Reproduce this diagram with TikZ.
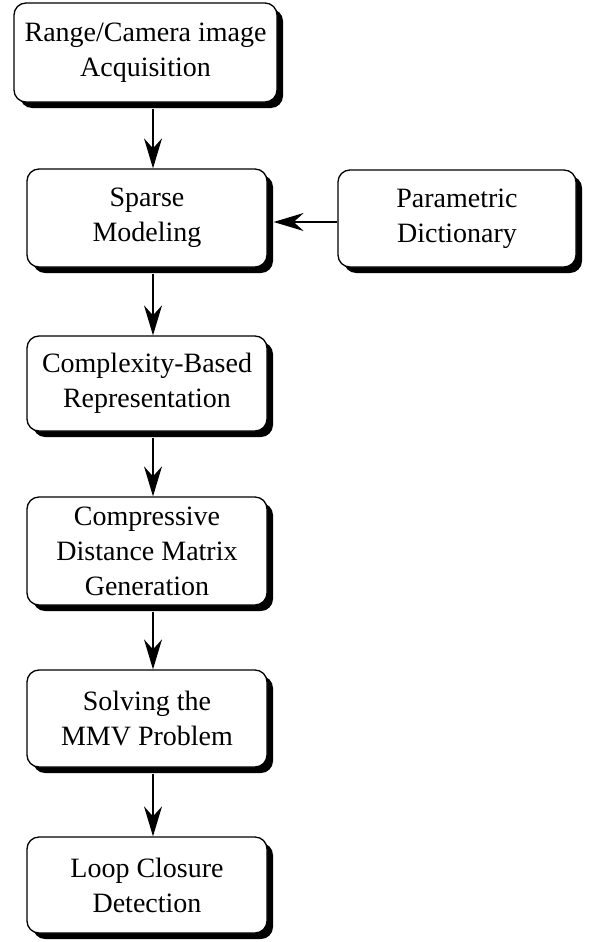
\documentclass[tikz,border=0pt]{standalone}
\usepackage{fontspec}
\setmainfont{Liberation Serif}
\usetikzlibrary{shadows,arrows.meta}
\begin{document}
\begin{tikzpicture}[x=1pt,y=-1pt,
  stepbox/.style={draw=black, line width=1.3pt, fill=white, rounded corners=12pt,
    align=center, inner sep=0pt, font=\fontsize{28}{35}\selectfont,
    drop shadow={shadow xshift=6pt, shadow yshift=-6pt, fill=black, opacity=1}},
  arr/.style={line width=1.3pt, -{Stealth[length=30pt,width=18pt,inset=10pt]}}]
\useasboundingbox (0,0) rectangle (592,942);
\node[stepbox, minimum width=263pt, minimum height=99pt] (b1) at (145.5,52.5) {Range/Camera image\\Acquisition};
\node[stepbox, minimum width=240pt, minimum height=98pt] (b2) at (147,218) {Sparse\\Modeling};
\node[stepbox, minimum width=238pt, minimum height=97pt] (p) at (457,218.5) {Parametric\\Dictionary};
\node[stepbox, minimum width=240pt, minimum height=95pt] (b3) at (147,383.5) {Complexity-Based\\Representation};
\node[stepbox, minimum width=240pt, minimum height=108pt] (b4) at (147,551) {Compressive\\Distance Matrix\\Generation};
\node[stepbox, minimum width=240pt, minimum height=97pt] (b5) at (147,718.5) {Solving the\\MMV Problem};
\node[stepbox, minimum width=240pt, minimum height=96pt] (b6) at (147,885) {Loop Closure\\Detection};
\draw[arr] ([xshift=7.5pt,yshift=-6pt]b1.south) -- ([xshift=6pt]b2.north);
\draw[arr] ([xshift=6pt,yshift=-6pt]b2.south) -- ([xshift=6pt]b3.north);
\draw[arr] ([xshift=6pt,yshift=-6pt]b3.south) -- ([xshift=6pt]b4.north);
\draw[arr] ([xshift=6pt,yshift=-6pt]b4.south) -- ([xshift=6pt]b5.north);
\draw[arr] ([xshift=6pt,yshift=-6pt]b5.south) -- ([xshift=6pt]b6.north);
\draw[arr] ([yshift=-3.5pt]p.west) -- ([xshift=6pt,yshift=-4pt]b2.east);
\end{tikzpicture}
\end{document}
